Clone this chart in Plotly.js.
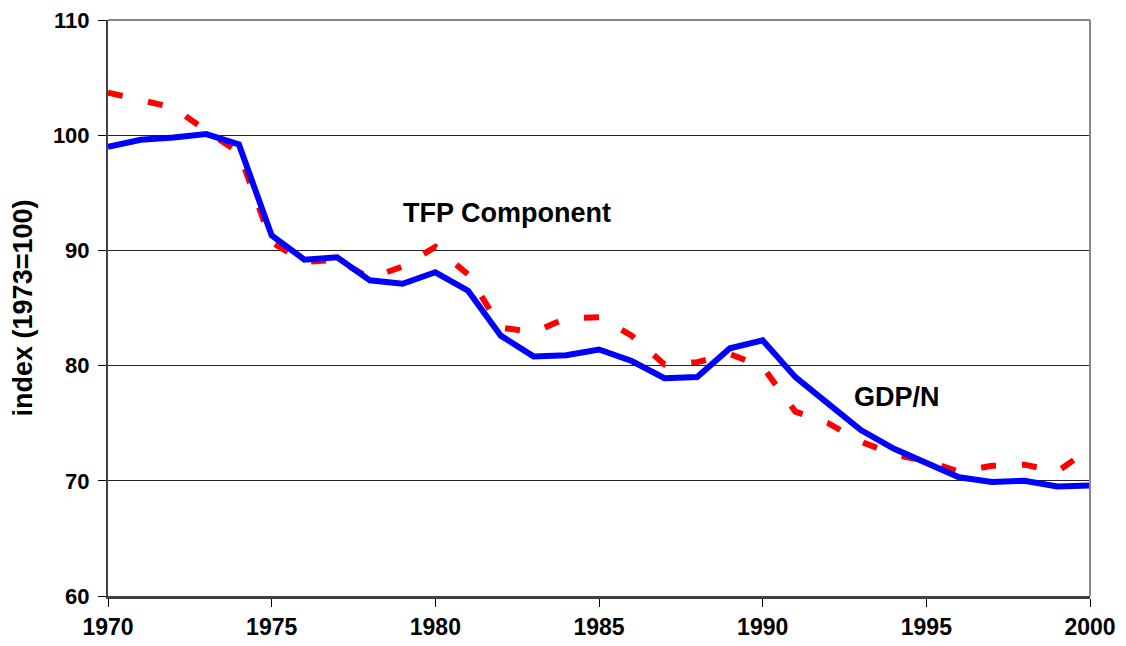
<!DOCTYPE html>
<html>
<head>
<meta charset="utf-8">
<script src="https://cdn.plot.ly/plotly-3.0.1.min.js"></script>
<style>html,body{margin:0;padding:0;background:#fff}#chart{width:1126px;height:646px}</style>
</head>
<body>
<div id="chart"></div>
<script>
const years = [1970,1971,1972,1973,1974,1975,1976,1977,1978,1979,1980,1981,1982,1983,1984,1985,1986,1987,1988,1989,1990,1991,1992,1993,1994,1995,1996,1997,1998,1999,2000];
const gdpPerN = [99.0,99.6,99.8,100.1,99.2,91.3,89.2,89.4,87.4,87.1,88.1,86.5,82.6,80.8,80.9,81.4,80.4,78.9,79.0,81.5,82.2,79.0,76.7,74.4,72.8,71.6,70.3,69.9,70.0,69.5,69.6];
const tfpComponent = [103.7,103.0,102.4,100.4,98.5,90.7,89.0,89.2,87.6,88.6,90.3,87.9,83.3,82.9,84.1,84.2,82.6,80.1,80.3,81.0,79.9,76.0,75.0,73.4,72.3,71.7,70.8,71.3,71.4,70.8,72.8];
const yTicks = [60,70,80,90,100,110];
const xTicks = [1970,1975,1980,1985,1990,1995,2000];

const font = "Liberation Sans, Arial, sans-serif";

const traces = [
  {x: years, y: tfpComponent, type: 'scatter', mode: 'lines', name: 'TFP Component',
   line: {color: '#ff0000', width: 6, dash: '15px,26px'}},
  {x: years, y: gdpPerN, type: 'scatter', mode: 'lines', name: 'GDP/N',
   line: {color: '#0000ff', width: 6}}
];

const layout = {
  width: 1126, height: 646,
  margin: {l: 108, r: 36, t: 20, b: 50},
  paper_bgcolor: '#fff', plot_bgcolor: '#fff',
  showlegend: false,
  font: {family: font, color: '#000'},
  xaxis: {
    range: [1970, 2000], tickvals: xTicks, ticktext: xTicks.map(String),
    showgrid: false, zeroline: false,
    showline: true, linecolor: '#404040', linewidth: 3,
    ticks: 'outside', ticklen: 8, tickcolor: '#000', tickwidth: 1,
    tickfont: {family: font, size: 23, color: '#000', weight: 'bold'}
  },
  yaxis: {
    range: [60, 110], tickvals: yTicks, ticktext: yTicks.map(String),
    showgrid: true, gridcolor: '#222', gridwidth: 1, zeroline: false,
    showline: true, linecolor: '#404040', linewidth: 2,
    ticks: 'outside', ticklen: 8, tickcolor: '#000', tickwidth: 1,
    ticklabelstandoff: 4,
    tickfont: {family: font, size: 22, color: '#000', weight: 'bold'},
    title: {text: 'index (1973=100)', font: {family: font, size: 27, color: '#000', weight: 'bold'}, standoff: 12}
  },
  shapes: [
    {type: 'line', xref: 'paper', yref: 'paper', x0: 0, x1: 1, y0: 1, y1: 1, line: {color: '#888', width: 2}},
    {type: 'line', xref: 'paper', yref: 'paper', x0: 1, x1: 1, y0: 0, y1: 1, line: {color: '#888', width: 2}}
  ],
  annotations: [
    {x: 1982.2, y: 93.25, xref: 'x', yref: 'y', text: 'TFP Component', showarrow: false,
     font: {family: font, size: 27, color: '#000', weight: 'bold'}},
    {x: 1994.1, y: 77.3, xref: 'x', yref: 'y', text: 'GDP/N', showarrow: false,
     font: {family: font, size: 27, color: '#000', weight: 'bold'}}
  ]
};

Plotly.newPlot('chart', traces, layout, {displayModeBar: false, staticPlot: true});
</script>
</body>
</html>
